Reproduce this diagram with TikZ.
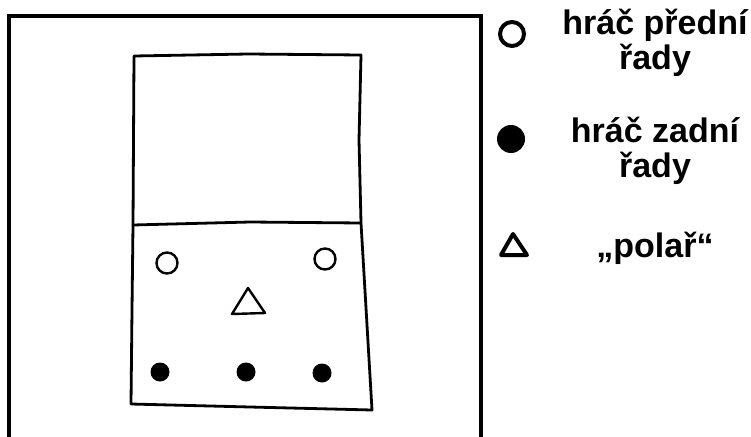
\documentclass[tikz,border=0pt]{standalone}
\usepackage{fontspec}
\setmainfont{Liberation Sans}
\usetikzlibrary{positioning}

\begin{document}
\begin{tikzpicture}[x=1pt, y=-1pt,
  court/.style={line width=2.8pt, line join=round, line cap=round},
  frame/.style={line width=3.5pt},
  front/.style={circle, draw, line width=2.4pt, minimum size=21pt, inner sep=0pt},
  back/.style={circle, fill, minimum size=19pt, inner sep=0pt},
  polar/.style={draw, line width=2.4pt, line join=round},
  legfront/.style={front, line width=4pt, minimum size=24pt},
  legback/.style={back, minimum size=28pt},
  legtext/.style={font=\bfseries\fontsize{34}{35}\selectfont, align=center, inner sep=0pt}]
  \useasboundingbox (0,0) rectangle (751,436);
  % outer frame, cut by the picture edge
  \draw[frame] (9,440) -- (9,16) -- (481,16) -- (481,440);
  % court: opponent half and own half
  \draw[court] (134,56) -- (248,54) -- (361,55) -- (359,140) -- (361,223)
    -- (372,410) -- (250,407) -- (131,404) -- (132,310) -- (133,225) -- (134,56);
  \draw[court] (133,225) -- (250,222) -- (361,223);
  % players
  \node[front] (f1) at (167,263) {};
  \node[front] (f2) at (325,259) {};
  \coordinate (p) at (248,302);
  \draw[polar] (232,314) -- (265,313) -- (248,288) -- cycle;
  \node[back] (b1) at (160,372) {};
  \node[back] (b2) at (246,372) {};
  \node[back] (b3) at (322,373) {};
  % legend
  \node[legfront] (lf) at (512,34) {};
  \node[legback] (lb) at (511,139) {};
  \draw[polar, line width=4pt] (501,255) -- (527,255) -- (513,234) -- cycle;
  \node[legtext, anchor=base] (tf) at (655,69) {hráč přední\\řady};
  \node[legtext, anchor=base] (tb) at (655,177) {hráč zadní\\řady};
  \node[legtext, anchor=base] (tp) at (655,257) {„polař“};
\end{tikzpicture}
\end{document}
